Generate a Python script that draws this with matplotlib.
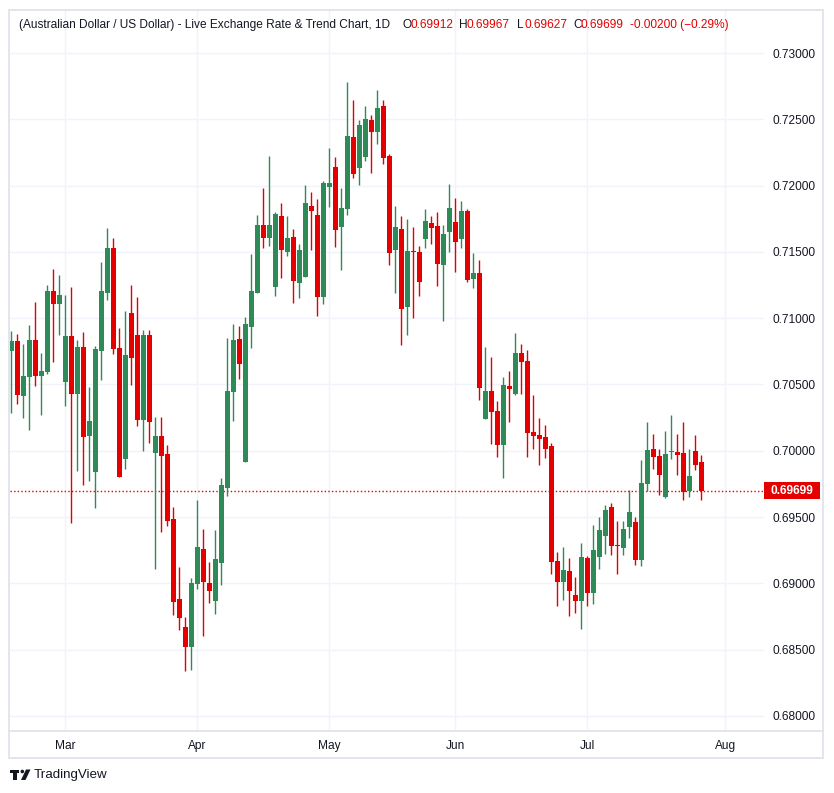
import matplotlib
matplotlib.use("Agg")
import matplotlib.pyplot as plt
from matplotlib.patches import Rectangle, Polygon, Circle
import numpy as np

# ---------------- data ----------------
opens = [0.70755, 0.70828, 0.70416, 0.70559, 0.70836, 0.70567, 0.70594, 0.71205, 0.71110, 0.70521,
         0.70866, 0.70431, 0.70783, 0.70114, 0.69843, 0.70755, 0.71190, 0.71530, 0.70775, 0.69941,
         0.71039, 0.70873, 0.70235, 0.70873, 0.69986, 0.70112, 0.69976, 0.69486, 0.68883, 0.68671,
         0.68523, 0.68998, 0.69260, 0.69003, 0.68870, 0.69156, 0.69722, 0.70446, 0.70843, 0.69918,
         0.70936, 0.71192, 0.71703, 0.71607, 0.71238, 0.71771, 0.71502, 0.71612, 0.71268, 0.71313,
         0.71846, 0.71778, 0.71162, 0.71992, 0.72140, 0.71690, 0.71826, 0.72367, 0.72135, 0.72218,
         0.72495, 0.72407, 0.72600, 0.72223, 0.71517, 0.71673, 0.71087, 0.71507, 0.71499, 0.71600,
         0.71718, 0.71695, 0.71404, 0.71652, 0.71726, 0.71600, 0.71809, 0.71298, 0.71341, 0.70242,
         0.70451, 0.70300, 0.70046, 0.70489, 0.70431, 0.70738, 0.70677, 0.70142, 0.70119, 0.70104,
         0.70036, 0.69169, 0.69013, 0.69094, 0.68913, 0.68870, 0.69192, 0.68930, 0.69202, 0.69360,
         0.69576, 0.69290, 0.69269, 0.69428, 0.69463, 0.69179, 0.69752, 0.70014, 0.69961, 0.69654,
         0.69991, 0.69991, 0.69984, 0.69699, 0.69999, 0.69912]
highs = [0.70904, 0.70881, 0.70806, 0.70949, 0.71122, 0.70738, 0.71250, 0.71371, 0.71326, 0.71175,
         0.71235, 0.70836, 0.70896, 0.70481, 0.70790, 0.71424, 0.71680, 0.71605, 0.70926, 0.71054,
         0.71250, 0.71160, 0.70911, 0.70911, 0.70257, 0.70257, 0.70044, 0.69579, 0.69124, 0.68747,
         0.69041, 0.69629, 0.69411, 0.69162, 0.69403, 0.69795, 0.70851, 0.70956, 0.70941, 0.71009,
         0.71484, 0.71778, 0.71982, 0.72223, 0.71801, 0.71869, 0.71771, 0.71673, 0.71560, 0.72005,
         0.71954, 0.71901, 0.72035, 0.72284, 0.72216, 0.71984, 0.72781, 0.72646, 0.72495, 0.72600,
         0.72532, 0.72721, 0.72646, 0.72238, 0.71846, 0.71771, 0.71748, 0.71688, 0.71545, 0.71824,
         0.71771, 0.71801, 0.71703, 0.72012, 0.71907, 0.71884, 0.71824, 0.71492, 0.71439, 0.70783,
         0.70708, 0.70376, 0.70557, 0.70602, 0.70889, 0.70806, 0.70760, 0.70421, 0.70248, 0.70195,
         0.70059, 0.69237, 0.69275, 0.69192, 0.69049, 0.69305, 0.69207, 0.69441, 0.69501, 0.69592,
         0.69607, 0.69471, 0.69471, 0.69705, 0.69501, 0.69931, 0.70217, 0.70127, 0.70014, 0.70150,
         0.70270, 0.70127, 0.70217, 0.70014, 0.70119, 0.69967]
lows = [0.70288, 0.70353, 0.70250, 0.70157, 0.70491, 0.70272, 0.70582, 0.70672, 0.70876, 0.70340,
        0.69453, 0.69850, 0.69745, 0.69775, 0.69571, 0.70536, 0.71137, 0.70732, 0.69800, 0.69865,
        0.70496, 0.70189, 0.70001, 0.70061, 0.69111, 0.69390, 0.69435, 0.68764, 0.68651, 0.68342,
        0.68349, 0.68960, 0.68606, 0.68855, 0.68772, 0.68990, 0.69662, 0.70227, 0.70544, 0.69918,
        0.70778, 0.71192, 0.71532, 0.71547, 0.71170, 0.71306, 0.71471, 0.71117, 0.71155, 0.71313,
        0.71517, 0.71019, 0.71110, 0.71841, 0.71539, 0.71366, 0.71781, 0.72060, 0.72007, 0.72188,
        0.72097, 0.72316, 0.72165, 0.71404, 0.71192, 0.70800, 0.70876, 0.71004, 0.71170, 0.71532,
        0.71562, 0.71245, 0.70981, 0.71502, 0.71351, 0.71532, 0.71275, 0.71230, 0.70386, 0.70242,
        0.70054, 0.69956, 0.69797, 0.70220, 0.70423, 0.70431, 0.69956, 0.70016, 0.69895, 0.69948,
        0.69073, 0.68832, 0.68877, 0.68757, 0.68779, 0.68659, 0.68832, 0.68847, 0.69111, 0.69224,
        0.69217, 0.69073, 0.69217, 0.69345, 0.69141, 0.69134, 0.69699, 0.69865, 0.69669, 0.69647,
        0.69941, 0.69820, 0.69632, 0.69654, 0.69858, 0.69627]
closes = [0.70828, 0.70423, 0.70564, 0.70836, 0.70567, 0.70602, 0.71205, 0.71110, 0.71175, 0.70866,
          0.70431, 0.70783, 0.70107, 0.70225, 0.70768, 0.71205, 0.71530, 0.70770, 0.69805, 0.70723,
          0.70700, 0.70235, 0.70873, 0.70220, 0.70112, 0.69963, 0.69473, 0.68862, 0.68742, 0.68523,
          0.69003, 0.69275, 0.69013, 0.68945, 0.69184, 0.69742, 0.70451, 0.70836, 0.70657, 0.70956,
          0.71205, 0.71703, 0.71607, 0.71703, 0.71786, 0.71517, 0.71605, 0.71283, 0.71514, 0.71869,
          0.71811, 0.71162, 0.72020, 0.72020, 0.71668, 0.71831, 0.72374, 0.72090, 0.72457, 0.72502,
          0.72407, 0.72585, 0.72210, 0.71494, 0.71688, 0.71072, 0.71507, 0.71499, 0.71275, 0.71733,
          0.71683, 0.71411, 0.71635, 0.71831, 0.71577, 0.71809, 0.71290, 0.71341, 0.70476, 0.70451,
          0.70295, 0.70046, 0.70496, 0.70468, 0.70738, 0.70672, 0.70137, 0.70114, 0.70091, 0.70016,
          0.69164, 0.69013, 0.69101, 0.68945, 0.68870, 0.69199, 0.68930, 0.69252, 0.69403, 0.69554,
          0.69285, 0.69282, 0.69411, 0.69539, 0.69179, 0.69757, 0.70006, 0.69956, 0.69820, 0.69976,
          0.69999, 0.69971, 0.69692, 0.69810, 0.69895, 0.69699]

month_labels = ["Mar", "Apr", "May", "Jun", "Jul", "Aug"]
month_index = [9, 31, 53, 74, 96, 119]
price_ticks = [0.680, 0.685, 0.690, 0.695, 0.700, 0.705, 0.710, 0.715, 0.720, 0.725, 0.730]
last_price = 0.69699
title = "(Australian Dollar / US Dollar) - Live Exchange Rate & Trend Chart, 1D"
ohlc_text = ["0.69912", "0.69967", "0.69627", "0.69699"]
change_text = "-0.00200 (\u22120.29%)"

# ---------------- style ----------------
GREEN = "#2E8B57"
RED = "#E50000"
TXT = "#131722"
GRID = "#F0F3FA"
FRAME = "#E0E3EB"
FONT = "Liberation Sans"

W, H = 834, 793
fig = plt.figure(figsize=(W / 100, H / 100), dpi=100)
fig.patch.set_facecolor("white")


def fx(x):
    return x / W


def fy(y):
    return 1 - y / H


# main chart axes (pixel box 10..764 x 10..730)
ax = fig.add_axes([fx(10), fy(730), fx(764) - fx(10), fy(10) - fy(730)])
ax.set_facecolor("white")

n = len(opens)
idx = np.arange(n)
o = np.array(opens); h = np.array(highs); l = np.array(lows); c = np.array(closes)
up = c >= o
colors = np.where(up, GREEN, RED)

ax.vlines(idx, l, h, colors=colors, linewidth=1.0, zorder=3)
body_bottom = np.minimum(o, c)
body_h = np.maximum(np.abs(c - o), 0.00008)
ax.bar(idx, body_h, bottom=body_bottom, width=0.78, color=colors, linewidth=0, zorder=4)

ax.set_xlim(-0.217, 125.45)
ax.set_ylim(0.678944, 0.733243)

ax.set_yticks(price_ticks)
ax.set_yticklabels([f"{p:.5f}" for p in price_ticks])
ax.yaxis.tick_right()
ax.set_xticks(month_index)
ax.set_xticklabels(month_labels)
ax.tick_params(axis="y", length=0, pad=5.8, labelsize=8.6, labelcolor=TXT)
ax.tick_params(axis="x", length=0, pad=7.5, labelsize=8.6, labelcolor=TXT)
for lab in ax.get_xticklabels() + ax.get_yticklabels():
    lab.set_fontfamily(FONT)
ax.grid(True, color=GRID, linewidth=1.0, zorder=0)
for s in ax.spines.values():
    s.set_visible(False)

ax.axhline(last_price, color=RED, linewidth=1.0, linestyle=(0, (1, 1.6)), zorder=2)

# overlay axes in pixel coordinates
ov = fig.add_axes([0, 0, 1, 1], facecolor="none")
ov.set_xlim(0, W)
ov.set_ylim(H, 0)
ov.axis("off")

# frame
ov.add_patch(Rectangle((9.5, 9.5), 823 - 9.5, 757.5 - 9.5, fill=False, edgecolor=FRAME, linewidth=1.3))
ov.plot([9.5, 823], [730.5, 730.5], color=FRAME, linewidth=1.3)

# price tag
ov.add_patch(Rectangle((764, 482), 56, 16.5, facecolor=RED, edgecolor="none"))
ov.text(792, 490.5, f"{last_price:.5f}", color="white", fontsize=8.6, fontweight="bold",
        ha="center", va="center", family=FONT)

# header legend
t = ov.text(19, 25, title, color=TXT, fontsize=9, ha="left", va="center", family=FONT)
fig.canvas.draw()
bb = t.get_window_extent()
fs = 9 * 374 / bb.width
t.set_fontsize(fs)
labels_x = [403, 459, 517, 573]
for lab, xx, val in zip(["O", "H", "L", "C"], labels_x, ohlc_text):
    ov.text(xx, 25, lab, color=TXT, fontsize=fs, ha="left", va="center", family=FONT)
    ov.text(xx + 8, 25, val, color=RED, fontsize=fs, ha="left", va="center", family=FONT)
ov.text(630, 25, change_text, color=RED, fontsize=fs, ha="left", va="center", family=FONT)

# TradingView logo
ov.add_patch(Polygon([(10, 769.5), (19.5, 769.5), (19.5, 773), (17, 773), (17, 780), (13.5, 780),
                      (13.5, 773), (10, 773)], closed=True, facecolor=TXT, edgecolor="none"))
ov.add_patch(Circle((22.3, 771.5), 1.8, facecolor=TXT, edgecolor="none"))
ov.add_patch(Polygon([(26, 769.5), (30.5, 769.5), (25.5, 780), (21, 780)], closed=True,
                     facecolor=TXT, edgecolor="none"))
ov.text(33.5, 775, "TradingView", color=TXT, fontsize=9.6, ha="left", va="center", family=FONT)

fig.savefig("out.png", dpi=100, facecolor="white")
